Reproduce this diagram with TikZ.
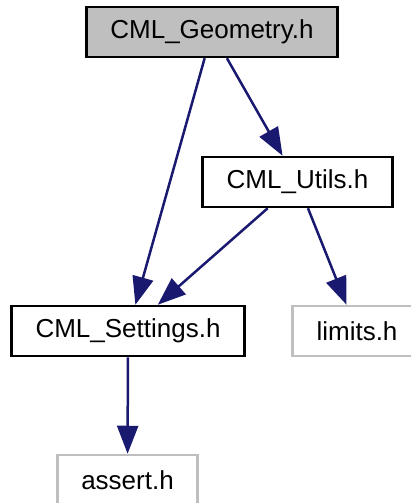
\documentclass[tikz,border=0pt]{standalone}
\usepackage{fontspec}
\setmainfont{Liberation Sans}
\usetikzlibrary{positioning,arrows.meta}
\definecolor{edgeblue}{HTML}{191970}
\definecolor{sysgray}{HTML}{BFBFBF}

\begin{document}
\begin{tikzpicture}[x=1pt,y=-1pt,
  file/.style={draw,line width=2.5pt,fill=white,minimum height=50pt,
    inner xsep=24pt,inner ysep=0pt,font=\fontsize{26}{30}\selectfont},
  sys/.style={file,draw=sysgray},
  inc/.style={edgeblue,line width=2.5pt,-{Triangle[length=28pt,width=21pt]}}]
  \useasboundingbox (0,0) rectangle (411,503);
  \node[file,fill=sysgray] (geo) at (212,32) {CML\_Geometry.h};
  \node[file] (utils) at (297.5,182) {CML\_Utils.h};
  \node[file] (settings) at (128,331) {CML\_Settings.h};
  \node[sys] (limits) at (357,331) {limits.h};
  \node[sys] (assert) at (127.5,480) {assert.h};
  \draw[inc] (geo) -- (settings);
  \draw[inc] (geo) -- (utils);
  \draw[inc] (utils) -- (settings);
  \draw[inc] (utils) -- (limits);
  \draw[inc] (settings) -- (assert);
\end{tikzpicture}
\end{document}
